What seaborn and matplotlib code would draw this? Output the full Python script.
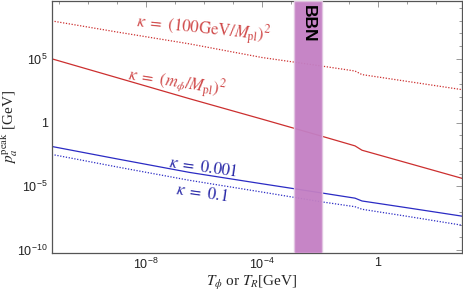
import numpy as np
import pandas as pd
import matplotlib
matplotlib.use("Agg")
import matplotlib.pyplot as plt
import matplotlib.ticker as mticker
import seaborn as sns

# ---- data (log10 values) ----
log_T = [-11.25, -9.0, -6.5, -4.0, -2.0, -0.79, -0.55, 1.0, 2.9]
logp_100GeV = [7.97, 7.10, 6.17, 5.10, 4.45, 4.04, 3.76, 3.23, 2.58]
logp_mphi = [5.00, 3.52, 1.87, 0.27, -1.03, -1.83, -2.17, -3.16, -4.375]
logp_k0001 = [-1.875, -2.85, -3.91, -4.80, -5.50, -5.93, -6.15, -6.68, -7.34]
logp_k01 = [-2.50, -3.48, -4.53, -5.45, -6.20, -6.60, -6.80, -7.35, -8.05]
bbn_range = [1.25e-3, 1.2e-2]
x_label_exps = [-8, -4, 0]
y_label_exps = [-10, -5, 0, 5]

series = {
    "k100": logp_100GeV,
    "kmphi": logp_mphi,
    "k0001": logp_k0001,
    "k01": logp_k01,
}
rows = []
for name, vals in series.items():
    for lt, lp in zip(log_T, vals):
        rows.append({"T": 10.0 ** lt, "p": 10.0 ** lp, "curve": name})
df = pd.DataFrame(rows)

sns.set_style("white")
plt.rcParams["mathtext.fontset"] = "stix"
plt.rcParams["font.family"] = ["Liberation Sans", "DejaVu Sans"]

fig = plt.figure(figsize=(4.63, 2.92), dpi=100)
ax = fig.add_axes([52 / 463, 39 / 292, 410 / 463, 252 / 292])

red = "#cc2f2f"
blue = "#2b2bc4"
styles = {
    "k100": (red, (0, (1, 1.3))),
    "kmphi": (red, "-"),
    "k0001": (blue, "-"),
    "k01": (blue, (0, (1, 1.3))),
}
for name, (c, ls) in styles.items():
    sns.lineplot(data=df[df.curve == name], x="T", y="p", ax=ax,
                 color=c, linestyle=ls, linewidth=0.9, legend=False)

ax.axvspan(bbn_range[0], bbn_range[1], facecolor="#c37fc3", edgecolor="#e2c6e2",
           lw=1.0, alpha=0.95, zorder=3)
ax.text(np.sqrt(bbn_range[0] * bbn_range[1]), 10 ** 7.73, "BBN", rotation=-90,
        ha="center", va="center", fontsize=12.5, fontweight="bold", color="black",
        zorder=4)

ax.set_xscale("log")
ax.set_yscale("log")
ax.set_xlim(10 ** -11.24, 10 ** 2.9)
ax.set_ylim(10 ** -10.23, 10 ** 9.53)

def fmt(v, pos):
    e = int(round(np.log10(v)))
    if e == 0:
        return "1"
    return r"$\mathregular{10^{%d}}$" % e

ax.xaxis.set_major_locator(mticker.FixedLocator([10.0 ** e for e in x_label_exps]))
ax.xaxis.set_major_formatter(mticker.FuncFormatter(fmt))
ax.xaxis.set_minor_locator(mticker.LogLocator(base=10, subs=[1.0], numticks=40))
ax.xaxis.set_minor_formatter(mticker.NullFormatter())
ax.yaxis.set_major_locator(mticker.FixedLocator([10.0 ** e for e in y_label_exps]))
ax.yaxis.set_major_formatter(mticker.FuncFormatter(fmt))
ax.yaxis.set_minor_locator(mticker.LogLocator(base=10, subs=[1.0], numticks=40))
ax.yaxis.set_minor_formatter(mticker.NullFormatter())

ax.tick_params(which="both", direction="in", width=0.6, color="#888888",
               top=True, right=True)
ax.tick_params(which="major", length=4.5, labelsize=9, pad=3, labelcolor="#222222")
ax.tick_params(which="minor", length=2.5)
for s in ax.spines.values():
    s.set_color("#555555")
    s.set_linewidth(0.9)

ax.set_xlabel(r"$T_\phi$ or $T_R$[GeV]", fontsize=11, family=["Liberation Serif"])
ax.set_ylabel(r"$p_a^{\rm peak}$ [GeV]", fontsize=11, family=["Liberation Serif"])
ax.xaxis.set_label_coords(0.488, -0.085)
ax.yaxis.set_label_coords(-0.078, 0.5)

lab_red = "#d04a4a"
lab_blue = "#2a2aa8"
ax.text(10 ** -6.03, 10 ** 7.34, r"$\kappa\ =\ (100\mathrm{GeV}/M_{\rm pl})^2$", color=lab_red,
        fontsize=12, rotation=-6, ha="center", va="center", zorder=5)
ax.text(10 ** -6.93, 10 ** 3.12, r"$\kappa\ =\ (m_\phi/M_{\rm pl})^2$", color=lab_red,
        fontsize=12, rotation=-9, ha="center", va="center", zorder=5)
ax.text(10 ** -6.03, 10 ** -3.44, r"$\kappa\ =\ 0.001$", color=lab_blue,
        fontsize=12, rotation=-8, ha="center", va="center", zorder=5)
ax.text(10 ** -6.07, 10 ** -5.47, r"$\kappa\ =\ 0.1$", color=lab_blue,
        fontsize=12, rotation=-8, ha="center", va="center", zorder=5)

fig.savefig("out.png", dpi=100)
